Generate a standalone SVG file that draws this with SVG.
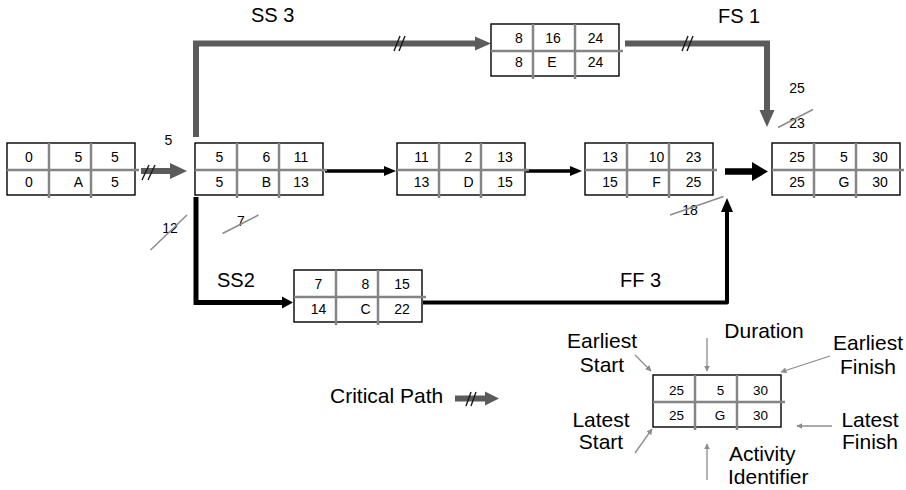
<svg xmlns="http://www.w3.org/2000/svg" width="906" height="490" viewBox="0 0 906 490">
<style>
text{font-family:"Liberation Sans",Arial,sans-serif;fill:#000}
.n{font-size:14px;text-anchor:middle}
.ln{font-size:13.5px;text-anchor:middle}
.lab{font-size:20px}
.lg{font-size:21px}
.c{text-anchor:middle}
.box{fill:#fff;stroke:#000;stroke-width:1.4}
.div{stroke:#858585;stroke-width:2.5;fill:none}
.crit{stroke:#5b5b5b;stroke-width:6;fill:none;stroke-linejoin:miter}
.ah{fill:#5b5b5b}
.blk{stroke:#000;fill:none}
.sl{stroke:#1a1a1a;stroke-width:1.4}
.st{stroke:#8c8c8c;stroke-width:1.5}
.pt{stroke:#8c8c8c;stroke-width:1.3;fill:none}
</style>
<defs>
<marker id="ga" viewBox="0 0 10 10" refX="9" refY="5" markerWidth="6" markerHeight="6" orient="auto" markerUnits="userSpaceOnUse">
<path d="M0,0 L10,5 L0,10 z" fill="#8c8c8c"/>
</marker>
<g id="cells">
<rect class="box" x="0" y="0" width="128" height="52"/>
<line class="div" x1="0" y1="27" x2="132" y2="27"/>
<line class="div" x1="42" y1="0" x2="42" y2="55"/>
<line class="div" x1="84" y1="0" x2="84" y2="55"/>
</g>
</defs>

<g id="connectors">
<line class="crit" x1="141" y1="171" x2="172" y2="171"/>
<polygon class="ah" points="170,163 187,171 170,179"/>
<line class="sl" x1="142" y1="180" x2="149" y2="165"/>
<line class="sl" x1="148" y1="180" x2="155" y2="165"/>
<path class="crit" d="M196,137 V43.5 H477"/>
<polygon class="ah" points="475,36.5 491,43.5 475,50.5"/>
<line class="sl" x1="394" y1="51" x2="400" y2="36"/>
<line class="sl" x1="399" y1="51" x2="405" y2="36"/>
<path class="crit" d="M625,43.5 H767 V112"/>
<polygon class="ah" points="759.5,110 767,127 774.5,110"/>
<line class="sl" x1="682" y1="51" x2="688" y2="36"/>
<line class="sl" x1="687" y1="51" x2="693" y2="36"/>
<line class="blk" stroke-width="3.5" x1="325" y1="171" x2="386" y2="171"/>
<polygon points="384,166 396,171 384,176" fill="#000"/>
<line class="blk" stroke-width="3.5" x1="526" y1="171" x2="572" y2="171"/>
<polygon points="570,166 582,171 570,176" fill="#000"/>
<line class="blk" stroke-width="6.5" x1="725" y1="171.5" x2="754" y2="171.5"/>
<polygon points="752,162 768,171.5 752,181" fill="#000"/>
<path class="blk" stroke-width="5" d="M196,197 V302.5 H284"/>
<polygon points="282,296.5 293,302.5 282,308.5" fill="#000"/>
<path class="blk" stroke-width="4" stroke-linejoin="round" d="M423,302.5 H727 V210"/>
<polygon points="721,212 727,198 733,212" fill="#000"/>
</g>

<g id="node-A">
<use href="#cells" x="7" y="143"/>
<text class="n" x="29" y="162">0</text><text class="n" x="78.5" y="162">5</text><text class="n" x="115" y="162">5</text>
<text class="n" x="29" y="187">0</text><text class="n" x="78.5" y="187">A</text><text class="n" x="115" y="187">5</text>
</g>
<g id="node-B">
<use href="#cells" x="195" y="143"/>
<text class="n" x="219.5" y="162">5</text><text class="n" x="266.5" y="162">6</text><text class="n" x="301" y="162">11</text>
<text class="n" x="219.5" y="187">5</text><text class="n" x="266.5" y="187">B</text><text class="n" x="301" y="187">13</text>
</g>
<g id="node-D">
<use href="#cells" x="397" y="143"/>
<text class="n" x="421.5" y="162">11</text><text class="n" x="468.5" y="162">2</text><text class="n" x="505" y="162">13</text>
<text class="n" x="421.5" y="187">13</text><text class="n" x="468.5" y="187">D</text><text class="n" x="505" y="187">15</text>
</g>
<g id="node-F">
<use href="#cells" x="585" y="143"/>
<text class="n" x="610" y="162">13</text><text class="n" x="656.5" y="162">10</text><text class="n" x="693.5" y="162">23</text>
<text class="n" x="610" y="187">15</text><text class="n" x="656.5" y="187">F</text><text class="n" x="693.5" y="187">25</text>
</g>
<g id="node-G">
<use href="#cells" x="772" y="143"/>
<text class="n" x="797" y="162">25</text><text class="n" x="844" y="162">5</text><text class="n" x="880" y="162">30</text>
<text class="n" x="797" y="187">25</text><text class="n" x="844" y="187">G</text><text class="n" x="880" y="187">30</text>
</g>
<g id="node-E">
<use href="#cells" x="491" y="24"/>
<text class="n" x="519" y="43">8</text><text class="n" x="553" y="43">16</text><text class="n" x="595.5" y="43">24</text>
<text class="n" x="519" y="67">8</text><text class="n" x="552" y="67">E</text><text class="n" x="595.5" y="67">24</text>
</g>
<g id="node-C">
<use href="#cells" x="294" y="270"/>
<text class="n" x="318.5" y="289">7</text><text class="n" x="365.5" y="289">8</text><text class="n" x="402" y="289">15</text>
<text class="n" x="318.5" y="314">14</text><text class="n" x="365.5" y="314">C</text><text class="n" x="402" y="314">22</text>
</g>

<g id="labels">
<text class="lab" x="251" y="22">SS 3</text>
<text class="lab" x="718" y="23">FS 1</text>
<text class="lab" x="217" y="287">SS2</text>
<text class="lab" x="620" y="287">FF 3</text>
<text class="n" x="168.5" y="145">5</text>
<text class="n" x="797" y="93">25</text>
<text class="n" x="797" y="128">23</text>
<line class="st" x1="778" y1="127.5" x2="813" y2="109.5"/>
<text class="n" x="170" y="233">12</text>
<line class="st" x1="150.5" y1="250" x2="187" y2="215"/>
<text class="n" x="241" y="226">7</text>
<line class="st" x1="222.5" y1="233.5" x2="258.5" y2="215"/>
<text class="n" x="690" y="215">18</text>
<line class="st" x1="670" y1="215" x2="723.5" y2="196.5"/>
</g>

<g id="legend">
<text class="lg" x="330" y="403">Critical Path</text>
<line class="crit" stroke-width="5.5" x1="455" y1="398.5" x2="487" y2="398.5"/>
<polygon class="ah" points="485,391.5 499,398.5 485,405.5"/>
<line class="sl" x1="466" y1="406" x2="471" y2="392"/>
<line class="sl" x1="471" y1="406" x2="476" y2="392"/>
<g id="legend-node">
<use href="#cells" x="653" y="375"/>
<text class="ln" x="676.5" y="395">25</text><text class="ln" x="720.5" y="395">5</text><text class="ln" x="760.5" y="395">30</text>
<text class="ln" x="676.5" y="420">25</text><text class="ln" x="720" y="420">G</text><text class="ln" x="760.5" y="420">30</text>
</g>
<text class="lg c" x="602" y="348">Earliest</text>
<text class="lg c" x="602" y="372">Start</text>
<text class="lg c" x="764" y="338">Duration</text>
<text class="lg c" x="868" y="350">Earliest</text>
<text class="lg c" x="868" y="374">Finish</text>
<text class="lg c" x="601" y="427">Latest</text>
<text class="lg c" x="601" y="449">Start</text>
<text class="lg c" x="870" y="427">Latest</text>
<text class="lg c" x="870" y="449">Finish</text>
<text class="lg" x="729" y="461">Activity</text>
<text class="lg" x="728" y="484">Identifier</text>
<line class="pt" x1="635" y1="355" x2="651" y2="371" marker-end="url(#ga)"/>
<line class="pt" x1="707" y1="338" x2="707" y2="371" marker-end="url(#ga)"/>
<line class="pt" x1="830" y1="356" x2="781" y2="372" marker-end="url(#ga)"/>
<line class="pt" x1="635" y1="453" x2="652" y2="429" marker-end="url(#ga)"/>
<line class="pt" x1="832" y1="426" x2="797" y2="426" marker-end="url(#ga)"/>
<line class="pt" x1="707" y1="480" x2="707" y2="444" marker-end="url(#ga)"/>
</g>
</svg>
